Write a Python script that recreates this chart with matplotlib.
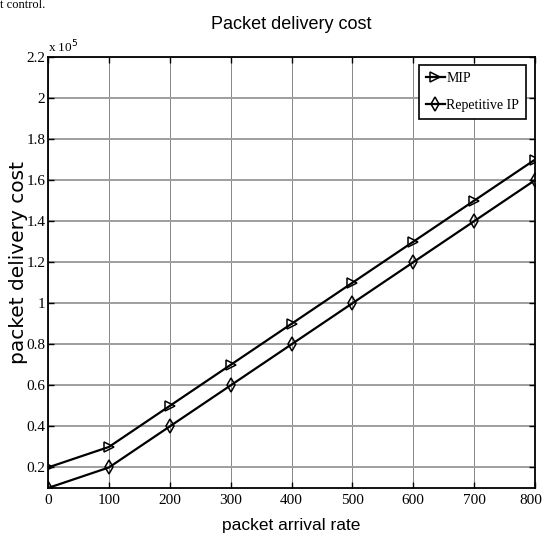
import matplotlib
matplotlib.use("Agg")
import matplotlib.pyplot as plt
from matplotlib import font_manager
from matplotlib.ticker import FuncFormatter
import matplotlib.transforms as mtransforms

# ---- data ----
arrival_rate = [0, 100, 200, 300, 400, 500, 600, 700, 800]
mip_cost = [0.2e5, 0.3e5, 0.5e5, 0.7e5, 0.9e5, 1.1e5, 1.3e5, 1.5e5, 1.7e5]
rep_ip_cost = [0.1e5, 0.2e5, 0.4e5, 0.6e5, 0.8e5, 1.0e5, 1.2e5, 1.4e5, 1.6e5]
series_labels = ["MIP", "Repetitive IP"]
x_ticks = [0, 100, 200, 300, 400, 500, 600, 700, 800]
y_ticks = [0.2e5, 0.4e5, 0.6e5, 0.8e5, 1.0e5, 1.2e5, 1.4e5, 1.6e5, 1.8e5, 2.0e5, 2.2e5]

names = {f.name for f in font_manager.fontManager.ttflist}
if "Liberation Sans Narrow" in names:
    narrow = dict(family="Liberation Sans Narrow")
else:
    narrow = dict(family="Liberation Sans")
serif = "Liberation Serif"

fig = plt.figure(figsize=(5.44, 5.41), dpi=100)
ax = fig.add_axes([48/544, 1-488/541, (535-48)/544, (488-57)/541])

ax.plot(arrival_rate, mip_cost, color="black", lw=1.6, marker=">",
        markersize=7, markerfacecolor="none", markeredgecolor="black",
        markeredgewidth=1.1, label=series_labels[0])
ax.plot(arrival_rate, rep_ip_cost, color="black", lw=1.6, marker="d",
        markersize=7, markerfacecolor="none", markeredgecolor="black",
        markeredgewidth=1.1, label=series_labels[1])

ax.set_xlim(0, 800)
ax.set_ylim(0.1e5, 2.2e5)
ax.set_xticks(x_ticks)
ax.set_yticks(y_ticks)
ax.yaxis.set_major_formatter(FuncFormatter(lambda v, p: "%g" % round(v/1e5, 4)))

ax.xaxis.grid(True, color="0.45", lw=0.6)
ax.yaxis.grid(True, color="0.62", lw=1.4)
ax.set_axisbelow(True)

ax.tick_params(direction="in", length=4, width=1.0, top=True, right=True,
               labelsize=11, pad=2, color="black")
ax.tick_params(axis="x", pad=4)
for lab in ax.get_xticklabels() + ax.get_yticklabels():
    lab.set_family(serif)
# keep the last x tick label inside the canvas
last = ax.get_xticklabels()[-1]
last.set_transform(last.get_transform() +
                   mtransforms.ScaledTranslation(-4/100, 0, fig.dpi_scale_trans))
for s in ax.spines.values():
    s.set_linewidth(1.3)
    s.set_color("black")

ax.text(0.0, 1.012, r"x 10$^{5}$", transform=ax.transAxes, family=serif,
        fontsize=9.5, ha="left", va="baseline")

ax.set_title("Packet delivery cost", fontsize=13, pad=20, **narrow)
ax.set_xlabel("packet arrival rate", fontsize=12.5, labelpad=8, **narrow)
ax.set_ylabel("packet delivery cost", fontsize=14.5, family="DejaVu Sans")
ax.yaxis.set_label_coords(-0.042, 0.524)

leg = ax.legend(loc="upper right", bbox_to_anchor=(0.982, 0.982),
                borderaxespad=0, fancybox=False, framealpha=1,
                edgecolor="black", prop={"family": serif, "size": 10},
                handlelength=1.4, handletextpad=0.1, borderpad=0.5,
                labelspacing=1.0)
leg.get_frame().set_linewidth(1.2)

fig.text(0.0, 0.986, "t control.", family=serif, fontsize=9,
         ha="left", va="baseline")

fig.savefig("out.png", dpi=100)
